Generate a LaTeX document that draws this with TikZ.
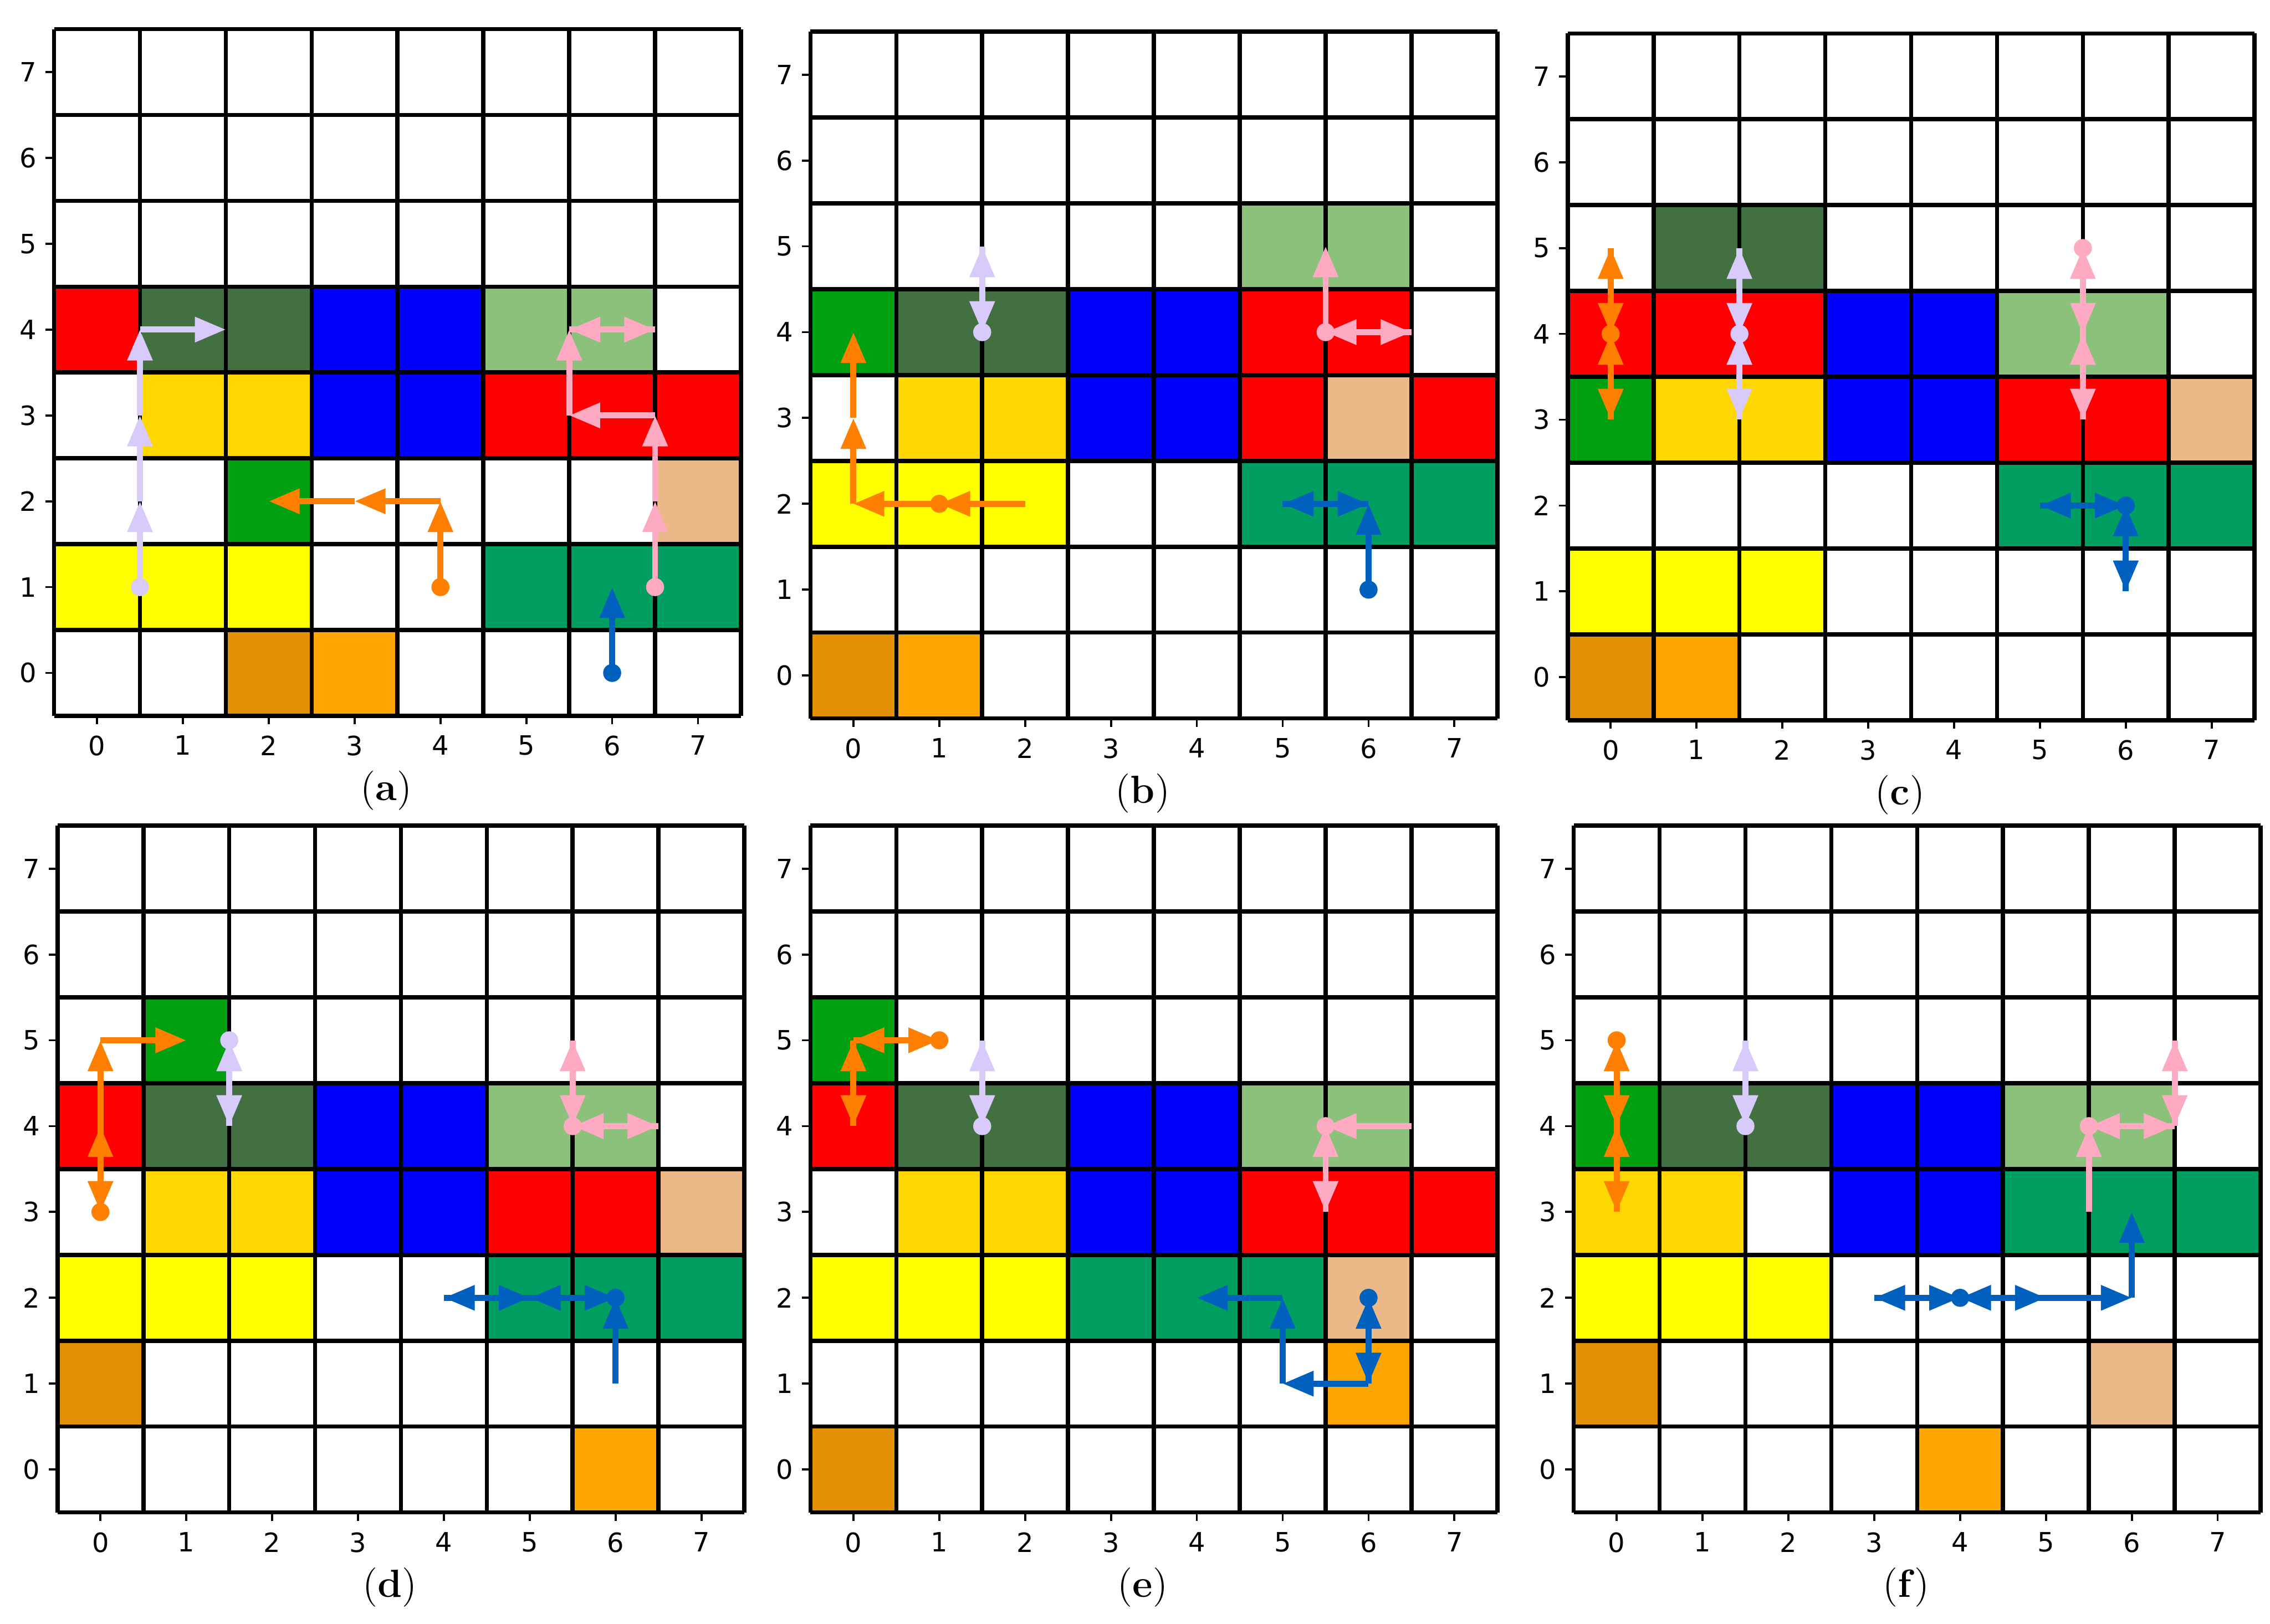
\documentclass[tikz,border=0pt]{standalone}
\usepackage{fontspec}
\newfontfamily\tickfont{DejaVu Sans}
\usetikzlibrary{arrows.meta}
\definecolor{cred}{RGB}{255,0,0}
\definecolor{cblue}{RGB}{0,0,255}
\definecolor{cdkgreen}{RGB}{66,112,64}
\definecolor{cltgreen}{RGB}{139,193,122}
\definecolor{cgreen}{RGB}{0,160,16}
\definecolor{csea}{RGB}{0,158,96}
\definecolor{cgold}{RGB}{255,215,0}
\definecolor{cyellow}{RGB}{255,255,0}
\definecolor{cdkorange}{RGB}{228,144,4}
\definecolor{corange}{RGB}{255,165,0}
\definecolor{ctan}{RGB}{235,185,135}
\definecolor{alav}{RGB}{216,202,250}
\definecolor{apink}{RGB}{255,170,195}
\definecolor{aorange}{RGB}{255,128,0}
\definecolor{ablue}{RGB}{0,96,190}
\newcommand{\cells}[1]{\foreach \cx/\cy/\cc in {#1} {\fill[\cc] (\cx-0.5,\cy-0.5) rectangle ++(1,1);}}
\newcommand{\moves}[2]{\foreach \ax/\ay/\bx/\by in {#2} {\draw[move,#1] (\ax,\ay) -- (\bx,\by);}}
\newcommand{\agent}[3]{\fill[#1] (#2,#3) circle (0.105);}
\newcommand{\board}[1]{%
  \draw[cellline,shift={(-0.5,-0.5)}] (0,0) grid (8,8);
  \foreach \k in {0,...,7} {
    \draw[tickline] (\k,-0.5) -- ++(0,-0.1) node[xtick] (#1x\k) {\k};
    \draw[tickline] (-0.5,\k) -- ++(-0.1,0) node[ytick] (#1y\k) {\k};
  }
  \node[caption] (cap#1) at (3.37,-1.37) {(\textbf{#1})};
}

\begin{document}
\begin{tikzpicture}[
  cellline/.style={line width=1.4pt},
  tickline/.style={line width=0.7pt},
  xtick/.style={anchor=north, inner sep=0pt, yshift=-0.12cm, font=\tickfont\fontsize{8.8}{10}\selectfont},
  ytick/.style={anchor=east, inner sep=0pt, xshift=-0.09cm, font=\tickfont\fontsize{8.8}{10}\selectfont},
  caption/.style={inner sep=0pt, font=\fontsize{13}{15}\selectfont},
  move/.style={line width=2pt, -{Triangle[length=0.36cm,width=0.28cm]}}
]
\fill[white] (0,0) rectangle (26.44,18.92);
\useasboundingbox (0,0) rectangle (26.44,18.92);

\begin{scope}[shift={(1.13,11.08)}]
\cells{0/4/cred, 1/4/cdkgreen, 2/4/cdkgreen, 3/4/cblue, 4/4/cblue, 5/4/cltgreen, 6/4/cltgreen,
  1/3/cgold, 2/3/cgold, 3/3/cblue, 4/3/cblue, 5/3/cred, 6/3/cred, 7/3/cred,
  2/2/cgreen, 7/2/ctan, 0/1/cyellow, 1/1/cyellow, 2/1/cyellow, 5/1/csea, 6/1/csea, 7/1/csea,
  2/0/cdkorange, 3/0/corange}
\board{a}
\moves{alav}{0.5/1/0.5/2, 0.5/2/0.5/3, 0.5/3/0.5/4, 0.5/4/1.5/4}
\moves{aorange}{4/1/4/2, 4/2/3/2, 3/2/2/2}
\moves{apink}{6.5/1/6.5/2, 6.5/2/6.5/3, 6.5/3/5.5/3, 5.5/3/5.5/4, 5.5/4/6.5/4, 6.5/4/5.5/4}
\moves{ablue}{6/0/6/1}
\agent{alav}{0.5}{1} \agent{aorange}{4}{1} \agent{apink}{6.5}{1} \agent{ablue}{6}{0}
\end{scope}

\begin{scope}[shift={(9.94,11.05)}]
\cells{5/5/cltgreen, 6/5/cltgreen,
  0/4/cgreen, 1/4/cdkgreen, 2/4/cdkgreen, 3/4/cblue, 4/4/cblue, 5/4/cred, 6/4/cred,
  1/3/cgold, 2/3/cgold, 3/3/cblue, 4/3/cblue, 5/3/cred, 6/3/ctan, 7/3/cred,
  0/2/cyellow, 1/2/cyellow, 2/2/cyellow, 5/2/csea, 6/2/csea, 7/2/csea,
  0/0/cdkorange, 1/0/corange}
\board{b}
\moves{alav}{1.5/4/1.5/5, 1.5/5/1.5/4}
\moves{aorange}{2/2/1/2, 1/2/0/2, 0/2/0/3, 0/3/0/4}
\moves{apink}{5.5/4/5.5/5, 5.5/4/6.5/4, 6.5/4/5.5/4}
\moves{ablue}{6/1/6/2, 6/2/5/2, 5/2/6/2}
\agent{alav}{1.5}{4} \agent{aorange}{1}{2} \agent{apink}{5.5}{4} \agent{ablue}{6}{1}
\end{scope}

\begin{scope}[shift={(18.76,11.03)}]
\cells{1/5/cdkgreen, 2/5/cdkgreen,
  0/4/cred, 1/4/cred, 2/4/cred, 3/4/cblue, 4/4/cblue, 5/4/cltgreen, 6/4/cltgreen,
  0/3/cgreen, 1/3/cgold, 2/3/cgold, 3/3/cblue, 4/3/cblue, 5/3/cred, 6/3/cred, 7/3/ctan,
  5/2/csea, 6/2/csea, 7/2/csea, 0/1/cyellow, 1/1/cyellow, 2/1/cyellow,
  0/0/cdkorange, 1/0/corange}
\board{c}
\moves{aorange}{0/4/0/5, 0/5/0/4, 0/3/0/4, 0/4/0/3}
\moves{alav}{1.5/4/1.5/5, 1.5/5/1.5/4, 1.5/3/1.5/4, 1.5/4/1.5/3}
\moves{apink}{5.5/4/5.5/5, 5.5/5/5.5/4, 5.5/3/5.5/4, 5.5/4/5.5/3}
\moves{ablue}{6/2/5/2, 5/2/6/2, 6/2/6/1, 6/1/6/2}
\agent{aorange}{0}{4} \agent{alav}{1.5}{4} \agent{apink}{5.5}{5} \agent{ablue}{6}{2}
\end{scope}

\begin{scope}[shift={(1.17,1.80)}]
\cells{1/5/cgreen,
  0/4/cred, 1/4/cdkgreen, 2/4/cdkgreen, 3/4/cblue, 4/4/cblue, 5/4/cltgreen, 6/4/cltgreen,
  1/3/cgold, 2/3/cgold, 3/3/cblue, 4/3/cblue, 5/3/cred, 6/3/cred, 7/3/ctan,
  0/2/cyellow, 1/2/cyellow, 2/2/cyellow, 5/2/csea, 6/2/csea, 7/2/csea,
  0/1/cdkorange, 6/0/corange}
\board{d}
\moves{aorange}{0/4/0/3, 0/3/0/4, 0/4/0/5, 0/5/1/5}
\moves{alav}{1.5/4/1.5/5, 1.5/5/1.5/4}
\moves{apink}{5.5/4/5.5/5, 5.5/5/5.5/4, 6.5/4/5.5/4, 5.5/4/6.5/4}
\moves{ablue}{5/2/4/2, 4/2/5/2, 6/2/5/2, 5/2/6/2, 6/1/6/2}
\agent{aorange}{0}{3} \agent{alav}{1.5}{5} \agent{apink}{5.5}{4} \agent{ablue}{6}{2}
\end{scope}

\begin{scope}[shift={(9.94,1.80)}]
\cells{0/5/cgreen,
  0/4/cred, 1/4/cdkgreen, 2/4/cdkgreen, 3/4/cblue, 4/4/cblue, 5/4/cltgreen, 6/4/cltgreen,
  1/3/cgold, 2/3/cgold, 3/3/cblue, 4/3/cblue, 5/3/cred, 6/3/cred, 7/3/cred,
  0/2/cyellow, 1/2/cyellow, 2/2/cyellow, 3/2/csea, 4/2/csea, 5/2/csea, 6/2/ctan,
  6/1/corange, 0/0/cdkorange}
\board{e}
\moves{aorange}{0/5/1/5, 1/5/0/5, 0/4/0/5, 0/5/0/4}
\moves{alav}{1.5/4/1.5/5, 1.5/5/1.5/4}
\moves{apink}{6.5/4/5.5/4, 5.5/3/5.5/4, 5.5/4/5.5/3}
\moves{ablue}{6/1/6/2, 6/2/6/1, 6/1/5/1, 5/1/5/2, 5/2/4/2}
\agent{aorange}{1}{5} \agent{alav}{1.5}{4} \agent{apink}{5.5}{4} \agent{ablue}{6}{2}
\end{scope}

\begin{scope}[shift={(18.83,1.80)}]
\cells{0/4/cgreen, 1/4/cdkgreen, 2/4/cdkgreen, 3/4/cblue, 4/4/cblue, 5/4/cltgreen, 6/4/cltgreen,
  0/3/cgold, 1/3/cgold, 3/3/cblue, 4/3/cblue, 5/3/csea, 6/3/csea, 7/3/csea,
  0/2/cyellow, 1/2/cyellow, 2/2/cyellow, 0/1/cdkorange, 6/1/ctan, 4/0/corange}
\board{f}
\moves{aorange}{0/4/0/5, 0/5/0/4, 0/3/0/4, 0/4/0/3}
\moves{alav}{1.5/4/1.5/5, 1.5/5/1.5/4}
\moves{apink}{5.5/3/5.5/4, 5.5/4/6.5/4, 6.5/4/5.5/4, 6.5/4/6.5/5, 6.5/5/6.5/4}
\moves{ablue}{4/2/3/2, 3/2/4/2, 5/2/4/2, 4/2/5/2, 5/2/6/2, 6/2/6/3}
\agent{aorange}{0}{5} \agent{alav}{1.5}{4} \agent{apink}{5.5}{4} \agent{ablue}{4}{2}
\end{scope}
\end{tikzpicture}
\end{document}
